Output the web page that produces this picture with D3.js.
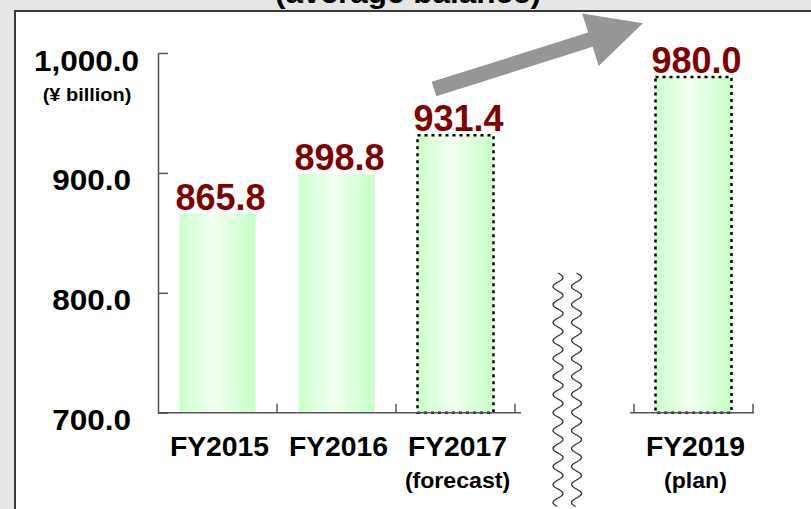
<!DOCTYPE html>
<html>
<head>
<meta charset="utf-8">
<script src="https://cdn.jsdelivr.net/npm/d3@7/dist/d3.min.js"></script>
<style>
  html, body { margin: 0; padding: 0; background: #e6e6e6; }
  svg { display: block; }
  text { font-family: "Liberation Sans", Arial, Helvetica, sans-serif; font-weight: bold; }
</style>
</head>
<body>
<svg id="chart" width="811" height="509"></svg>
<script>
// Loan balance by fiscal year (average balance), ¥ billion
const categories = ["FY2015", "FY2016", "FY2017", "FY2019"];
const subLabels  = ["", "", "(forecast)", "(plan)"];
const values     = [865.8, 898.8, 931.4, 980.0];
const projected  = [false, false, true, true];
const slots      = ["FY2015", "FY2016", "FY2017", "gap", "FY2019"];
const yTicks     = [700, 800, 900, 1000];
const unitLabel  = "(¥ billion)";
const titleText  = "(average balance)";

const W = 811, H = 509;
const svg = d3.select("#chart");

// backdrop and white panel
svg.append("rect").attr("width", W).attr("height", H).attr("fill", "#e6e6e6");

// title, its upper part running off the top
svg.append("text")
  .attr("transform", "translate(408,3) scale(1.05,1)")
  .attr("text-anchor", "middle").attr("font-size", 30).attr("fill", "#000")
  .text(titleText);

svg.append("rect")
  .attr("x", 15).attr("y", 11).attr("width", W + 10).attr("height", H + 10)
  .attr("fill", "#ffffff").attr("stroke", "#3a3a3a").attr("stroke-width", 2);

const x = d3.scaleBand().domain(slots).range([158, 753]).paddingInner(0).paddingOuter(0);
const y = d3.scaleLinear().domain([700, 1000]).range([412.7, 53]);
const barW = 76;

const defs = svg.append("defs");
const grad = defs.append("linearGradient").attr("id", "barFill")
  .attr("x1", "0%").attr("x2", "100%").attr("y1", "0%").attr("y2", "0%");
grad.append("stop").attr("offset", "0%").attr("stop-color", "#ccffcc");
grad.append("stop").attr("offset", "45%").attr("stop-color", "#f2fff2");
grad.append("stop").attr("offset", "100%").attr("stop-color", "#c8ffc8");

const data = categories.map((c, i) => ({ c, sub: subLabels[i], v: values[i], p: projected[i] }));

// bars
svg.append("g").selectAll("rect").data(data).join("rect")
  .attr("x", d => x(d.c) + (x.bandwidth() - barW) / 2)
  .attr("y", d => y(d.v))
  .attr("width", barW)
  .attr("height", d => y(700) - y(d.v))
  .attr("fill", "url(#barFill)")
  .attr("stroke", d => d.p ? "#000" : "none")
  .attr("stroke-width", 2.5)
  .attr("stroke-dasharray", "3,4");

// y axis
const yAxis = d3.axisLeft(y).tickValues(yTicks).tickFormat(d3.format(",.1f"))
  .tickSizeInner(-10).tickSizeOuter(0).tickPadding(0);
const gy = svg.append("g").attr("transform", "translate(158,0)").call(yAxis);
gy.attr("color", "#555").attr("font-size", null).attr("font-family", null);
gy.select(".domain").attr("stroke-width", 1.5);
gy.selectAll(".tick line").attr("stroke-width", 1.5);
gy.selectAll(".tick text")
  .attr("x", 0).attr("dy", null)
  .attr("fill", "#000").attr("font-size", 30)
  .attr("transform", d => `translate(${d === 1000 ? -19 : -27},17) scale(1.05,1)`);

svg.append("text")
  .attr("transform", "translate(87,101) scale(1.05,1)")
  .attr("text-anchor", "middle").attr("font-size", 19).attr("fill", "#000")
  .text(unitLabel);

// x axis, broken between FY2017 and FY2019
const gx = svg.append("g").attr("stroke", "#555").attr("stroke-width", 1.5);
const y0 = y(700);
const seg1 = [x("FY2015"), x("FY2017") + x.bandwidth() + 6];
const seg2 = [x("FY2019") - 4, x("FY2019") + x.bandwidth() + 1];
[seg1, seg2].forEach(s => gx.append("line").attr("x1", s[0]).attr("x2", s[1]).attr("y1", y0).attr("y2", y0));
const tickXs = [x("FY2016"), x("FY2017"), x("FY2017") + x.bandwidth(), x("FY2019"), x("FY2019") + x.bandwidth()];
gx.selectAll("line.t").data(tickXs).join("line").attr("class", "t")
  .attr("x1", d => d).attr("x2", d => d).attr("y1", y0).attr("y2", y0 - 9);

// category labels
const cx = d => x(d.c) + x.bandwidth() / 2;
svg.append("g").selectAll("text").data(data).join("text")
  .attr("transform", d => `translate(${cx(d) + 2},456) scale(1.05,1)`)
  .attr("text-anchor", "middle").attr("font-size", 27).attr("fill", "#000")
  .text(d => d.c);
svg.append("g").selectAll("text").data(data.filter(d => d.sub)).join("text")
  .attr("transform", d => `translate(${cx(d) + 2},488) scale(1.05,1)`)
  .attr("text-anchor", "middle").attr("font-size", 22).attr("fill", "#000")
  .text(d => d.sub);

// value labels
svg.append("g").selectAll("text").data(data).join("text")
  .attr("x", d => cx(d) + 3)
  .attr("y", d => y(d.v) - 4)
  .attr("text-anchor", "middle").attr("font-size", 36).attr("fill", "#800000")
  .text(d => d3.format(".1f")(d.v));

// break marks: two wavy rules in the gap slot
const wave = d3.line().x(p => p[0]).y(p => p[1]);
[558, 576.5].forEach(wx => {
  const pts = d3.range(273, 507, 0.5).map(py => [wx + 5 * Math.sin(2 * Math.PI * (py - 273) / 18), py]);
  svg.append("path").attr("d", wave(pts)).attr("fill", "none")
    .attr("stroke", "#333").attr("stroke-width", 1.3);
});

// growth arrow
const shaft = 164, head = 55, hw = 7.5, hh = 27.5;
const arrowPts = [[0, -hw], [shaft, -hw], [shaft, -hh], [shaft + head, 0], [shaft, hh], [shaft, hw], [0, hw]];
svg.append("polygon")
  .attr("points", arrowPts.map(p => p.join(",")).join(" "))
  .attr("transform", "translate(434,89) rotate(-17.5)")
  .attr("fill", "#969696");
</script>
</body>
</html>
